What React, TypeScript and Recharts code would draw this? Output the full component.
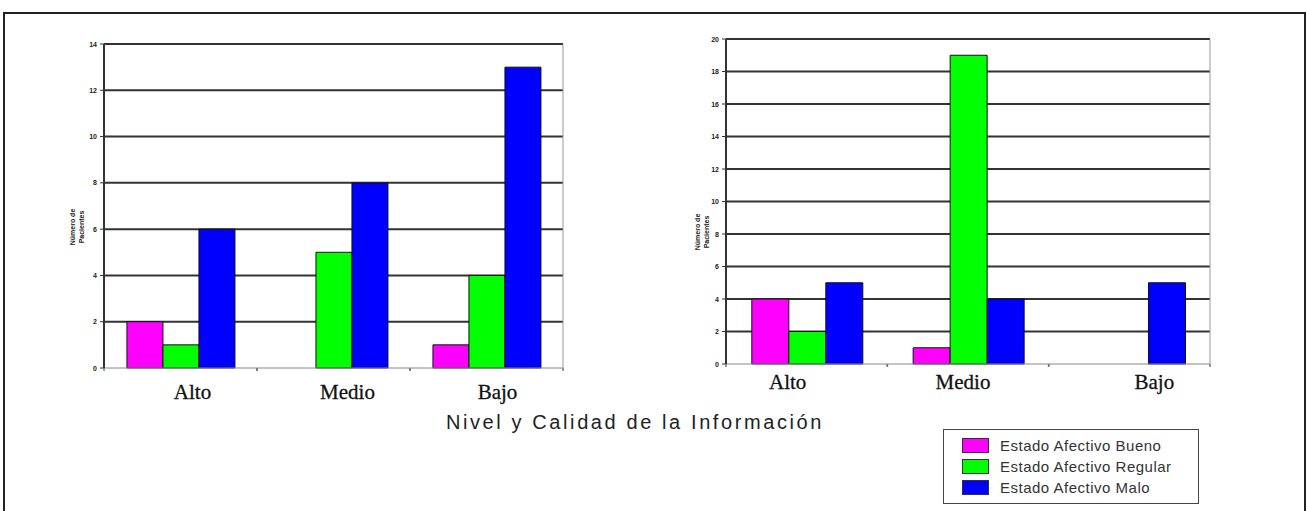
import React from 'react';
import { BarChart, Bar, XAxis, YAxis, CartesianGrid, ReferenceLine } from 'recharts';

const categories = ['Alto', 'Medio', 'Bajo'];

const leftBueno = [2, 0, 1];
const leftRegular = [1, 5, 4];
const leftMalo = [6, 8, 13];

const rightBueno = [4, 1, 0];
const rightRegular = [2, 19, 0];
const rightMalo = [5, 4, 5];

const leftTicks = [0, 2, 4, 6, 8, 10, 12, 14];
const rightTicks = [0, 2, 4, 6, 8, 10, 12, 14, 16, 18, 20];

const seriesNames = ['Estado Afectivo Bueno', 'Estado Afectivo Regular', 'Estado Afectivo Malo'];
const seriesColors = ['#FF00FF', '#00FF00', '#0000FF'];

const title = 'Nivel y Calidad de la Información';
const yTitle = ['Número de', 'Pacientes'];

const leftData = categories.map((c, i) => ({ cat: c, bueno: leftBueno[i], regular: leftRegular[i], malo: leftMalo[i] }));
const rightData = categories.map((c, i) => ({ cat: c, bueno: rightBueno[i], regular: rightRegular[i], malo: rightMalo[i] }));

const makeCatTick = (dxs: number[], dy: number) => (props: any) => {
  const { x, y, payload, index } = props;
  const off = payload && payload.offset ? payload.offset : 0;
  return (
    <g>
      {off ? <line x1={x - off} x2={x - off} y1={y} y2={y + 3} stroke="#777" strokeWidth={1.5} /> : null}
      {off ? <line x1={x + off} x2={x + off} y1={y} y2={y + 3} stroke="#777" strokeWidth={1.5} /> : null}
      <text x={x + dxs[index]} y={y + dy} textAnchor="middle" dominantBaseline="central"
        fontFamily="'Liberation Serif', serif" fontSize={21} fill="#111" stroke="#111" strokeWidth={0.3}>
        {payload.value}
      </text>
    </g>
  );
};

const yTick = (props: any) => {
  const { x, y, payload } = props;
  return (
    <text x={x} y={y} textAnchor="end" dominantBaseline="central" fontFamily="'Liberation Sans', Arial, sans-serif"
      fontSize={7} fontWeight="bold" fill="#222">
      {payload.value}
    </text>
  );
};

const gridLine = (props: any) => {
  const { x1, x2, y1, y2, index } = props;
  if (index === 0) return <g key={props.key} />;
  return <line key={props.key} x1={x1} x2={x2} y1={y1} y2={y2} stroke="#333" strokeWidth={2} />;
};

const YTitle = ({ cx, cy }: { cx: number; cy: number }) => (
  <div style={{
    position: 'absolute', left: cx - 40, top: cy - 10, width: 80, height: 20,
    transform: 'rotate(-90deg)', textAlign: 'center', fontFamily: "'Liberation Sans', Arial, sans-serif",
    fontSize: 7, fontWeight: 'bold', lineHeight: '9px', color: '#222'
  }}>
    {yTitle[0]}<br />{yTitle[1]}
  </div>
);

const bars = () => seriesNames.map((n, i) => (
  <Bar key={n} dataKey={['bueno', 'regular', 'malo'][i]} fill={seriesColors[i]} stroke="#111" strokeWidth={1}
    isAnimationActive={false} />
));

export default function App() {
  return (
    <div style={{ position: 'absolute', left: 0, top: 0, width: 1307, height: 511, background: '#fff', overflow: 'hidden' }}>
      <div style={{ position: 'absolute', left: 3, top: 12, width: 1299, height: 540, border: '2px solid #222' }} />

      <div style={{ position: 'absolute', left: 0, top: 0 }}>
        <BarChart width={600} height={420} data={leftData} barCategoryGap="15%" barGap={0}
          margin={{ top: 44, right: 37, left: 64, bottom: 22 }}>
          <CartesianGrid vertical={false} horizontal={gridLine} />
          <XAxis dataKey="cat" height={30} tickSize={0} tickMargin={0} axisLine={{ stroke: '#888' }}
            tick={makeCatTick([12, 14, 11], 24)} interval={0} />
          <YAxis width={40} domain={[0, 14]} ticks={leftTicks} interval={0} tickSize={4} tickMargin={3}
            axisLine={{ stroke: '#333', strokeWidth: 2 }} tickLine={{ stroke: '#333' }} tick={yTick} />
          <ReferenceLine x="Bajo" position="end" stroke="#999" strokeWidth={1} />
          {bars()}
        </BarChart>
      </div>

      <div style={{ position: 'absolute', left: 640, top: 0 }}>
        <BarChart width={620} height={420} data={rightData} barCategoryGap="16%" barGap={0}
          margin={{ top: 39, right: 50, left: 46, bottom: 26 }}>
          <CartesianGrid vertical={false} horizontal={gridLine} />
          <XAxis dataKey="cat" height={30} tickSize={0} tickMargin={0} axisLine={{ stroke: '#888' }}
            tick={makeCatTick([-19, -5, 25], 18)} interval={0} />
          <YAxis width={40} domain={[0, 20]} ticks={rightTicks} interval={0} tickSize={4} tickMargin={3}
            axisLine={{ stroke: '#333', strokeWidth: 2 }} tickLine={{ stroke: '#333' }} tick={yTick} />
          <ReferenceLine x="Bajo" position="end" stroke="#999" strokeWidth={1} />
          {bars()}
        </BarChart>
      </div>

      <YTitle cx={78} cy={227} />
      <YTitle cx={703} cy={232} />

      <div style={{
        position: 'absolute', left: 335, top: 408, width: 600, textAlign: 'center',
        fontFamily: "'Liberation Sans', Arial, sans-serif", fontSize: 20, letterSpacing: 2.6, color: '#222', lineHeight: '28px'
      }}>{title}</div>

      <div style={{
        position: 'absolute', left: 943, top: 429, width: 256, height: 75, border: '1px solid #444', boxSizing: 'border-box'
      }}>
        {seriesNames.map((n, i) => (
          <div key={n} style={{ position: 'absolute', left: 18, top: 7 + i * 21, height: 17, display: 'flex', alignItems: 'center' }}>
            <div style={{ width: 27, height: 15, background: seriesColors[i], border: '1px solid #333', boxSizing: 'border-box' }} />
            <span style={{
              marginLeft: 11, fontFamily: "'Liberation Sans', Arial, sans-serif", fontSize: 15, letterSpacing: 0.5,
              color: '#333', whiteSpace: 'nowrap'
            }}>{n}</span>
          </div>
        ))}
      </div>
    </div>
  );
}
